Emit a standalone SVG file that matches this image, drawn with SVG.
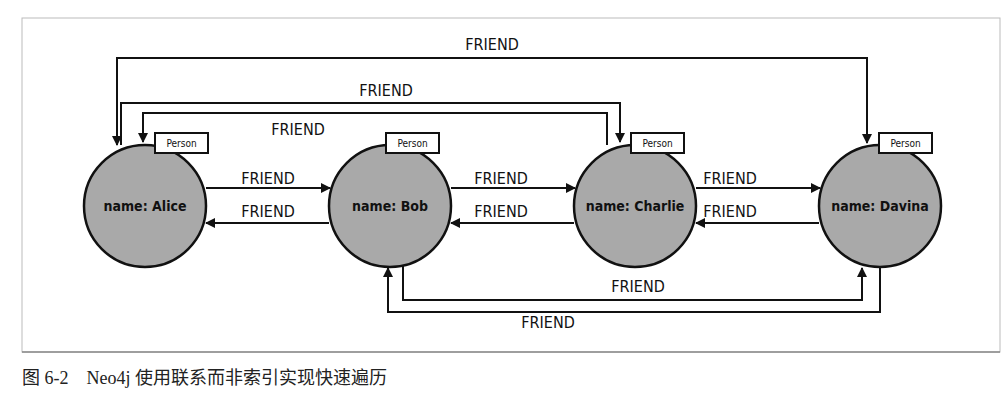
<svg xmlns="http://www.w3.org/2000/svg" width="1008" height="408" viewBox="0 0 1008 408">
<defs>
<marker id="ah" viewBox="0 0 10 10" refX="9" refY="5" markerWidth="10" markerHeight="10" markerUnits="userSpaceOnUse" orient="auto"><path d="M0,0L10,5L0,10z" fill="#111"/></marker>
<style>
.n{fill:#a9a9a9;stroke:#111;stroke-width:2.5}
.t{font-family:"DejaVu Sans Condensed","DejaVu Sans",sans-serif;font-stretch:condensed;fill:#111}
.nm{font-size:14px;font-weight:bold;text-anchor:middle}
.lb{font-size:16px;text-anchor:middle}
.pl{font-size:10px;text-anchor:middle}
.c{fill:none;stroke:#111;stroke-width:2;marker-end:url(#ah)}
.c0{fill:none;stroke:#111;stroke-width:2}
</style>
</defs>
<rect x="22" y="18" width="978" height="334" fill="#fff" stroke="#bbb" stroke-width="1"/>
<line x1="22" y1="352" x2="1000" y2="352" stroke="#888" stroke-width="1.5"/>
<g id="connectors">
<path class="c" d="M490,58H117V145"/>
<path class="c" d="M490,58H867V143"/>
<path class="c" d="M121,145V103H620V142"/>
<path class="c" d="M607,145V113H143V142"/>
<path class="c" d="M206,188H330"/>
<path class="c" d="M329,223H206"/>
<path class="c" d="M451,188H575"/>
<path class="c" d="M574,223H451"/>
<path class="c" d="M696,188H820"/>
<path class="c" d="M819,223H696"/>
<path class="c" d="M403,266V300H862V268"/>
<path class="c" d="M880,266V312H388V268"/>
<text class="t lb" x="492" y="50">FRIEND</text>
<text class="t lb" x="386" y="96">FRIEND</text>
<text class="t lb" x="298" y="135">FRIEND</text>
<text class="t lb" x="268" y="184">FRIEND</text>
<text class="t lb" x="268" y="217">FRIEND</text>
<text class="t lb" x="501" y="184">FRIEND</text>
<text class="t lb" x="501" y="217">FRIEND</text>
<text class="t lb" x="730" y="184">FRIEND</text>
<text class="t lb" x="730" y="217">FRIEND</text>
<text class="t lb" x="638" y="292">FRIEND</text>
<text class="t lb" x="548" y="328">FRIEND</text>
</g>
<g id="alice"><circle class="n" cx="145" cy="206" r="61"/><text class="t nm" x="145" y="211">name: Alice</text><rect x="155" y="133" width="53" height="20" fill="#fff" stroke="#111" stroke-width="2"/><text class="t pl" x="181.5" y="147">Person</text></g>
<g id="bob"><circle class="n" cx="390" cy="206" r="61"/><text class="t nm" x="390" y="211">name: Bob</text><rect x="386" y="133" width="53" height="20" fill="#fff" stroke="#111" stroke-width="2"/><text class="t pl" x="412.5" y="147">Person</text></g>
<g id="charlie"><circle class="n" cx="635" cy="206" r="61"/><text class="t nm" x="635" y="211">name: Charlie</text><rect x="631" y="133" width="53" height="20" fill="#fff" stroke="#111" stroke-width="2"/><text class="t pl" x="657.5" y="147">Person</text></g>
<g id="davina"><circle class="n" cx="880" cy="206" r="61"/><text class="t nm" x="880" y="211">name: Davina</text><rect x="879" y="133" width="53" height="20" fill="#fff" stroke="#111" stroke-width="2"/><text class="t pl" x="905.5" y="147">Person</text></g>
<text x="22" y="384" font-family="'Liberation Serif','Noto Sans CJK SC',serif" font-size="18" fill="#222">图 6-2　Neo4j 使用联系而非索引实现快速遍历</text>
</svg>
